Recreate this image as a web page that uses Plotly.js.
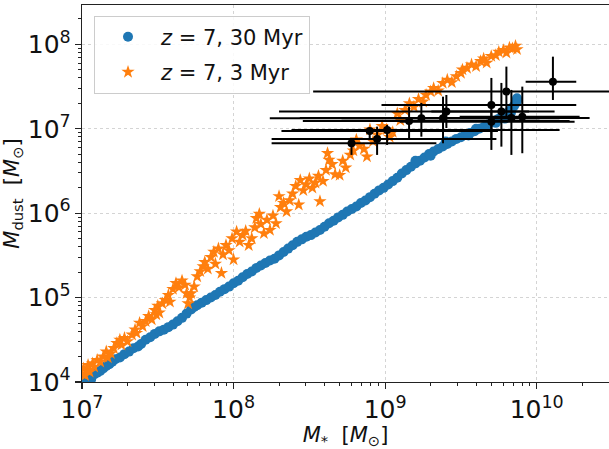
<!DOCTYPE html>
<html>
<head>
<meta charset="utf-8">
<script src="https://cdn.plot.ly/plotly-3.0.1.min.js"></script>
<style>html,body{margin:0;padding:0;background:#fff;overflow:hidden}#chart{width:609px;height:449px}</style>
</head>
<body>
<div id="chart"></div>
<script>
// log10 values (converted with 10^v for plotting)
const blueLogM = [7.00,7.01,7.02,7.03,7.04,7.05,7.06,7.08,7.10,7.12,7.14,7.16,7.18,7.20,7.22,7.25,7.28,7.31,7.34,7.37,7.39,7.42,7.45,7.48,7.51,7.54,7.57,7.60,7.63,7.66,7.69,7.72,7.74,7.76,7.79,7.82,7.85,7.88,7.91,7.94,7.97,8.00,8.03,8.06,8.09,8.12,8.15,8.18,8.21,8.24,8.27,8.30,8.33,8.36,8.39,8.42,8.45,8.48,8.51,8.54,8.57,8.60,8.63,8.66,8.69,8.72,8.75,8.78,8.81,8.84,8.87,8.90,8.93,8.96,8.99,9.02,9.05,9.08,9.11,9.14,9.17,9.20,9.23,9.26,9.29,9.32,9.35,9.38,9.41,9.44,9.47,9.50,9.53,9.56,9.59,9.62,9.65,9.68,9.71,9.74,9.76,9.78,9.80,9.82,9.84,9.85,9.86,9.87,9.87,9.83,9.79,9.73,9.20,9.30,9.40,9.55,9.60];
const blueLogD = [3.97,4.00,4.02,3.99,4.04,4.06,4.03,4.09,4.11,4.13,4.16,4.19,4.21,4.24,4.27,4.29,4.33,4.36,4.40,4.42,4.45,4.50,4.53,4.57,4.60,4.62,4.65,4.68,4.72,4.76,4.81,4.86,4.89,4.91,4.94,4.97,5.00,5.03,5.07,5.10,5.13,5.17,5.20,5.24,5.28,5.31,5.35,5.38,5.41,5.44,5.46,5.50,5.54,5.58,5.62,5.66,5.69,5.72,5.74,5.77,5.80,5.84,5.88,5.91,5.95,5.98,6.02,6.05,6.08,6.12,6.15,6.19,6.23,6.27,6.30,6.34,6.38,6.42,6.47,6.51,6.55,6.59,6.62,6.66,6.70,6.73,6.76,6.79,6.82,6.85,6.88,6.90,6.93,6.95,6.97,7.00,7.02,7.05,7.08,7.11,7.13,7.15,7.18,7.21,7.25,7.27,7.30,7.33,7.36,7.19,7.12,7.07,6.62,6.68,6.85,6.92,7.00];

const orangeLogM = [7.00,7.01,7.02,7.03,7.04,7.05,7.07,7.08,7.10,7.12,7.14,7.16,7.17,7.19,7.21,7.23,7.25,7.26,7.28,7.30,7.33,7.35,7.36,7.38,7.40,7.42,7.44,7.46,7.48,7.49,7.50,7.51,7.53,7.55,7.57,7.58,7.60,7.62,7.64,7.66,7.68,7.69,7.70,7.71,7.72,7.74,7.76,7.78,7.80,7.81,7.83,7.85,7.87,7.88,7.90,7.92,7.93,7.95,7.97,7.99,8.00,8.02,8.04,8.06,8.08,8.10,8.12,8.14,8.15,8.17,8.18,8.20,8.22,8.24,8.26,8.28,8.30,8.31,8.33,8.35,8.37,8.39,8.41,8.43,8.44,8.46,8.48,8.50,8.52,8.54,8.56,8.57,8.59,8.61,8.62,8.63,8.65,8.67,8.70,8.72,8.74,8.77,8.79,8.81,8.83,8.86,8.88,8.90,8.92,8.95,8.98,9.01,9.03,9.05,9.08,9.10,9.13,9.16,9.19,9.22,9.25,9.27,9.30,9.32,9.35,9.38,9.41,9.44,9.47,9.50,9.51,9.54,9.57,9.60,9.63,9.65,9.67,9.70,9.73,9.75,9.78,9.80,9.82,9.84,9.86,9.87];
const orangeLogD = [4.10,4.16,4.08,4.14,4.20,4.12,4.22,4.18,4.26,4.24,4.30,4.36,4.29,4.34,4.40,4.46,4.50,4.44,4.52,4.48,4.56,4.62,4.58,4.70,4.66,4.72,4.78,4.74,4.85,4.80,4.90,4.82,4.93,4.97,5.03,4.95,5.10,5.17,5.12,5.20,5.15,5.05,4.93,5.00,5.05,5.13,5.25,5.31,5.37,5.42,5.34,5.48,5.54,5.40,5.58,5.29,5.51,5.62,5.56,5.70,5.45,5.78,5.66,5.74,5.79,5.62,5.70,5.83,5.94,5.99,5.87,5.76,5.92,5.80,5.97,5.88,6.20,6.07,6.12,6.02,6.15,6.23,6.32,6.10,6.39,6.27,6.34,6.41,6.30,6.36,6.44,6.14,6.38,6.51,6.71,6.63,6.58,6.46,6.45,6.62,6.54,6.69,6.74,6.87,6.80,6.76,6.67,6.99,6.85,6.93,7.03,6.99,6.90,6.96,7.18,7.10,7.22,7.30,7.26,7.35,7.32,7.40,7.44,7.48,7.45,7.54,7.58,7.55,7.62,7.66,7.70,7.72,7.76,7.74,7.80,7.83,7.78,7.86,7.87,7.91,7.93,7.90,7.96,7.95,7.98,7.94];

// observations: centre, lower and upper bounds (log10)
const obsLogM   = [8.778,8.947,8.898,9.013,9.158,9.239,9.382,9.404,9.701,9.701,9.767,9.800,9.833,9.905,10.107];
const obsLogMlo = [8.251,8.251,8.316,8.382,8.457,8.712,8.239,8.300,8.976,9.096,9.305,8.525,8.437,9.492,9.927];
const obsLogMhi = [9.338,9.734,9.744,10.151,10.217,10.151,10.019,9.950,10.261,10.250,10.118,10.547,10.349,10.283,10.261];
const obsLogD   = [6.828,6.879,6.974,6.986,7.092,7.124,7.124,7.203,7.282,7.084,7.203,7.440,7.128,7.143,7.558];
const obsLogDlo = [6.690,6.690,6.867,6.808,6.879,6.906,6.828,7.009,6.867,6.749,6.788,7.143,6.690,6.710,7.341];
const obsLogDhi = [6.887,7.025,7.009,7.045,7.262,7.306,7.380,7.400,7.602,7.223,7.543,7.736,7.460,7.499,7.854];

const p = v => Math.pow(10, v);

const blue = {
  x: blueLogM.map(p), y: blueLogD.map(p), type: 'scatter', mode: 'markers',
  name: '<i>z</i> = 7, 30 Myr', legendgroup: 'a',
  marker: {color: '#1f77b4', size: 10, symbol: 'circle', line: {width: 0}}
};
const orange = {
  x: orangeLogM.map(p), y: orangeLogD.map(p), type: 'scatter', mode: 'markers',
  name: '<i>z</i> = 7, 3 Myr', legendgroup: 'b',
  marker: {color: '#ff7f0e', size: 10, symbol: 'star', line: {width: 0}}
};
const obs = {
  x: obsLogM.map(p), y: obsLogD.map(p), type: 'scatter', mode: 'markers', showlegend: false,
  marker: {color: 'black', size: 8},
  error_x: {type: 'data', symmetric: false,
    array: obsLogM.map((v, i) => p(obsLogMhi[i]) - p(v)),
    arrayminus: obsLogM.map((v, i) => p(v) - p(obsLogMlo[i])),
    color: 'black', thickness: 2, width: 0},
  error_y: {type: 'data', symmetric: false,
    array: obsLogD.map((v, i) => p(obsLogDhi[i]) - p(v)),
    arrayminus: obsLogD.map((v, i) => p(v) - p(obsLogDlo[i])),
    color: 'black', thickness: 2, width: 0}
};

const font = {family: 'DejaVu Sans, sans-serif', color: '#111'};
const axisCommon = {
  type: 'log', dtick: 1, exponentformat: 'power', showexponent: 'all',
  ticks: 'outside', ticklen: 6, tickwidth: 1.2, tickcolor: '#222',
  showline: true, linecolor: '#222', linewidth: 1.3,
  showgrid: true, gridcolor: '#d4d4d4', gridwidth: 1, griddash: 'dot',
  zeroline: false, tickfont: {family: font.family, size: 20, color: '#111'},
  minor: {ticks: 'outside', ticklen: 3, tickcolor: '#222', tickwidth: 1, showgrid: false, dtick: 'D1'}
};

const layout = {
  width: 609, height: 449,
  margin: {l: 82, r: 0, t: 5, b: 67},
  paper_bgcolor: '#fff', plot_bgcolor: '#fff',
  font: font,
  showlegend: true,
  xaxis: Object.assign({}, axisCommon, {
    range: [7, 10.477], mirror: true,
    title: {text: '<i>M</i><sub>*</sub>  [<i>M</i><sub>⊙</sub>]', font: {family: font.family, size: 21, color: '#111'}, standoff: 5}
  }),
  yaxis: Object.assign({}, axisCommon, {
    range: [4, 8.466], mirror: false,
    title: {text: '<i>M</i><sub>dust</sub>  [<i>M</i><sub>⊙</sub>]', font: {family: font.family, size: 21, color: '#111'}, standoff: 4}
  }),
  legend: {
    x: 0.0228, y: 0.972, xanchor: 'left', yanchor: 'top',
    bgcolor: 'rgba(255,255,255,0.85)', bordercolor: '#cccccc', borderwidth: 1,
    font: {family: font.family, size: 21, color: '#111'},
    itemwidth: 56, traceorder: 'grouped', tracegroupgap: 5
  }
};

Plotly.newPlot('chart', [blue, orange, obs], layout, {staticPlot: true, displayModeBar: false});
</script>
</body>
</html>
